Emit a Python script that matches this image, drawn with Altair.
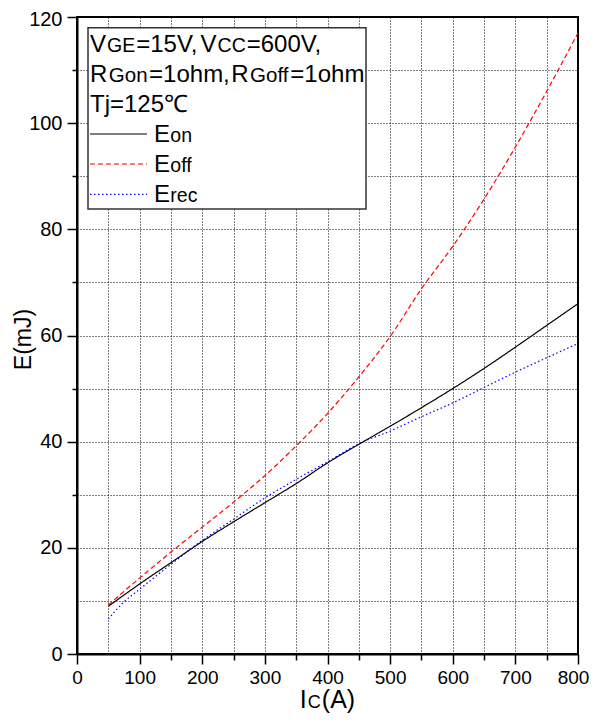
import altair as alt
import pandas as pd

# ---------------- data ----------------
ic = [50, 75, 100, 150, 200, 250, 300, 350, 400, 450, 500, 550, 600, 650, 700, 750, 800]
e_on = [9.0, 11.1, 13.2, 17.2, 21.2, 24.9, 28.5, 32.1, 36.0, 39.5, 42.9, 46.4, 50.0, 53.8, 57.8, 61.9, 66.0]
e_off = [9.2, 11.8, 14.3, 19.2, 23.9, 28.6, 33.6, 39.2, 45.3, 52.2, 59.8, 68.8, 76.8, 85.7, 95.5, 106.0, 117.0]
e_rec = [6.6, 9.8, 12.2, 16.9, 21.4, 25.4, 29.4, 32.9, 36.2, 39.6, 42.0, 44.7, 47.3, 50.2, 53.1, 55.8, 58.5]
series = ["Eon", "Eoff", "Erec"]
x_ticks = list(range(0, 801, 50))
y_ticks = list(range(0, 121, 10))

rows = []
for name, vals in zip(series, [e_on, e_off, e_rec]):
    for x, y in zip(ic, vals):
        rows.append({"x": x, "y": y, "s": name})
df = pd.DataFrame(rows)

# ---------------- layout / styles ----------------
W, H = 501, 637
FONT = "Liberation Sans, Arial, sans-serif"
colors = ["#000000", "#ff0000", "#0000ff"]
dashes = [[1, 0], [5, 3], [1.5, 2.5]]

AW = {"V": .667, "G": .778, "E": .667, "=": .584, ",": .278, "C": .722, "R": .722,
      "o": .556, "n": .556, "h": .556, "m": .833, "f": .278, "T": .611, "j": .222,
      "I": .278, "(": .333, ")": .333, "A": .667, "r": .333, "e": .556, "c": .5,
      "\u2103": 1.0}
for d in "0123456789":
    AW[d] = .556


def width(t, size):
    return sum(AW.get(ch, .6) for ch in t) * size


def place(parts, x0, gap):
    out, x = [], x0
    for t, s in parts:
        out.append((t, s, x))
        x += width(t, s) + gap
    return out


xs = alt.Scale(domain=[0, 800], nice=False, zero=False)
ys = alt.Scale(domain=[0, 120], nice=False, zero=False)

x_axis = alt.Axis(
    values=x_ticks, title=None,
    labelExpr="datum.value % 100 === 0 ? datum.label : ''",
    tickSize={"condition": {"test": "datum.value % 100 === 0", "value": 10}, "value": 6},
    tickOpacity={"condition": {"test": "datum.value === 50", "value": 0}, "value": 1},
    labelOffset={"condition": {"test": "datum.value === 800", "value": -5}, "value": 0},
    labelFontSize=19, labelPadding=4, grid=True, gridDash=[1, 2], gridColor="black",
    gridOpacity=1, labelFlush=False, labelOverlap=False,
)
y_axis = alt.Axis(
    values=y_ticks, title="E(mJ)",
    labelExpr="datum.value % 20 === 0 ? datum.label : ''",
    tickSize={"condition": {"test": "datum.value % 20 === 0", "value": 10}, "value": 5},
    tickOpacity={"condition": {"test": "datum.value === 10", "value": 0}, "value": 1},
    labelOffset={"condition": {"test": "datum.value === 120", "value": 2}, "value": 0},
    labelFontSize=20, labelPadding=5, grid=True, gridDash=[1, 2], gridColor="black",
    gridOpacity=1, labelFlush=False, labelOverlap=False,
    titleFontSize=23, titleFontWeight="normal", titleX=-47, titleY=322,
    titleBaseline="alphabetic",
)

lines = alt.Chart(df).mark_line(strokeWidth=1.2, interpolate="monotone").encode(
    x=alt.X("x:Q", scale=xs, axis=x_axis),
    y=alt.Y("y:Q", scale=ys, axis=y_axis),
    color=alt.Color("s:N", scale=alt.Scale(domain=series, range=colors), legend=None),
    strokeDash=alt.StrokeDash("s:N", scale=alt.Scale(domain=series, range=dashes), legend=None),
    detail="s:N",
)

one = pd.DataFrame({"k": [0]})
layers = [lines]

# legend box
layers.append(alt.Chart(one).mark_rect(fill="white", stroke="#333333", strokeWidth=1.5).encode(
    x=alt.value(11), x2=alt.value(289), y=alt.value(10.7), y2=alt.value(192)))

# legend sample lines
for col, dsh, yy in zip(colors, dashes, [117, 147, 177.3]):
    layers.append(alt.Chart(one).mark_rule(color=col, strokeDash=dsh, strokeWidth=1.2).encode(
        x=alt.value(13), x2=alt.value(70), y=alt.value(yy)))

SM = 19.5
texts = []
texts += [(p, 34.7) for p in place([("V", 24), ("GE", SM), ("=15V,", 24), ("V", 24), ("CC", SM), ("=600V,", 24)], 13, 1.0)]
texts += [(p, 64.7) for p in place([("R", 24), ("Gon", 20.5), ("=1ohm,", 24), ("R", 24), ("Goff", 20.5), ("=1ohm", 24)], 13, 1.5)]
texts += [(p, 94.7) for p in place([("Tj=125\u2103", 24)], 13, 0)]
for lab, yy in zip(["on", "off", "rec"], [124.7, 154.7, 184.7]):
    texts += [(p, yy) for p in place([("E", 24), (lab, SM)], 77, 0.3)]
# x title (Ic(A)) centred under the plot
title_parts = [("I", 25), ("C", 18), ("(A)", 25)]
tw = sum(width(t, s) for t, s in title_parts) + 2
texts += [(p, 691) for p in place(title_parts, W / 2 - tw / 2, 1)]

for (t, s, x), yy in texts:
    layers.append(alt.Chart(one).mark_text(align="left", baseline="alphabetic", font=FONT,
                                           fontSize=s, color="black").encode(
        x=alt.value(x), y=alt.value(yy), text=alt.value(t)))

chart = alt.layer(*layers).properties(
    width=W, height=H,
    autosize=alt.AutoSizeParams(type="none"),
    padding={"left": 69, "top": 9, "right": 11, "bottom": 60},
).configure_view(stroke="black", strokeWidth=2).configure_axis(
    labelFont=FONT, titleFont=FONT, labelColor="black", titleColor="black",
    domainColor="black", domainWidth=2, tickColor="black", tickWidth=1.5,
)

chart.save("out.html", embed_options={"renderer": "svg", "actions": False})
